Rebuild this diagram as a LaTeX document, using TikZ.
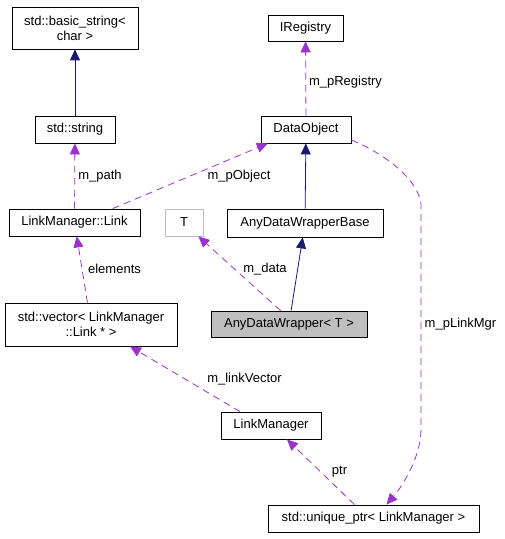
\documentclass[tikz,border=0pt]{standalone}
\usepackage{fontspec}
\setmainfont{Liberation Sans}
\usetikzlibrary{arrows.meta,positioning,calc}
\definecolor{edgeblue}{HTML}{191970}
\definecolor{edgepurple}{HTML}{9A32CD}
\definecolor{boxgray}{HTML}{BFBFBF}
\tikzset{
  cls/.style={draw=black,line width=0.8pt,rectangle,inner sep=0pt,font=\fontsize{13}{15}\selectfont},
  twoline/.style={align=center},
  inherit/.style={-{Triangle[length=11pt,width=10pt]},draw=edgeblue,line width=0.8pt},
  usage/.style={-{Triangle[length=11pt,width=10pt]},draw=edgepurple,line width=0.8pt,dash pattern=on 7pt off 5pt},
  lbl/.style={inner sep=0pt,font=\fontsize{13}{15}\selectfont}
}

\begin{document}
\begin{tikzpicture}[x=1pt,y=1pt]
\useasboundingbox (0,0) rectangle (505,539);
\node[cls,twoline,minimum width=126pt,minimum height=42pt] (basicstr) at (75,511) {std::basic\_string<\\char >};
\node[cls,minimum width=80pt,minimum height=27pt] (stdstr) at (75,409.5) {std::string};
\node[cls,minimum width=75pt,minimum height=26pt] (ireg) at (305.5,511) {IRegistry};
\node[cls,minimum width=90pt,minimum height=27pt] (dataobj) at (306,409.5) {DataObject};
\node[cls,minimum width=131pt,minimum height=27pt] (link) at (74.5,316.5) {LinkManager::Link};
\node[cls,draw=boxgray,minimum width=38pt,minimum height=27pt] (tparam) at (184,316.5) {T};
\node[cls,minimum width=156pt,minimum height=28pt] (base) at (305,316) {AnyDataWrapperBase};
\node[cls,twoline,minimum width=172pt,minimum height=43pt] (vec) at (91,214.5) {std::vector< LinkManager\\::Link * >};
\node[cls,fill=boxgray,minimum width=156pt,minimum height=26pt] (adw) at (289,215) {AnyDataWrapper< T >};
\node[cls,minimum width=100pt,minimum height=27pt] (lmgr) at (271,113.5) {LinkManager};
\node[cls,minimum width=211pt,minimum height=27pt] (uptr) at (373.5,20.5) {std::unique\_ptr< LinkManager >};
\coordinate (turn1) at (421,335);
\coordinate (turn2) at (421,110);

\draw[inherit] (stdstr) -- (basicstr);
\draw[usage] (link) -- (stdstr);
\draw[usage] (link.20) -- (dataobj.200);
\draw[usage] (dataobj) -- (ireg);
\draw[inherit] (base) -- (dataobj);
\draw[inherit] (adw) -- (base);
\draw[usage] (adw.122) -- (tparam.316);
\draw[usage] (vec) -- (link);
\draw[usage] ($(lmgr.north)+(-31,0)$) -- ($(vec.south)+(39,0)$);
\draw[usage] ($(uptr.north)+(-19,0)$) -- ($(lmgr.south)+(16,0)$);
\draw[usage] (dataobj.-13) .. controls (385,385) and (418,360) .. (turn1) -- (turn2)
  .. controls (421,80) and (400,50) .. ($(uptr.north)+(13,0)$);

\node[lbl] (lpath) at (100,363) {m\_path};
\node[lbl] (lobj) at (239,363) {m\_pObject};
\node[lbl] (lreg) at (345.5,457) {m\_pRegistry};
\node[lbl] (ldata) at (265,270) {m\_data};
\node[lbl] (lelem) at (114.5,270) {elements};
\node[lbl] (lvec) at (244.5,160) {m\_linkVector};
\node[lbl] (lptr) at (339.5,67) {ptr};
\node[lbl] (lmgrptr) at (460.5,215) {m\_pLinkMgr};
\end{tikzpicture}
\end{document}
